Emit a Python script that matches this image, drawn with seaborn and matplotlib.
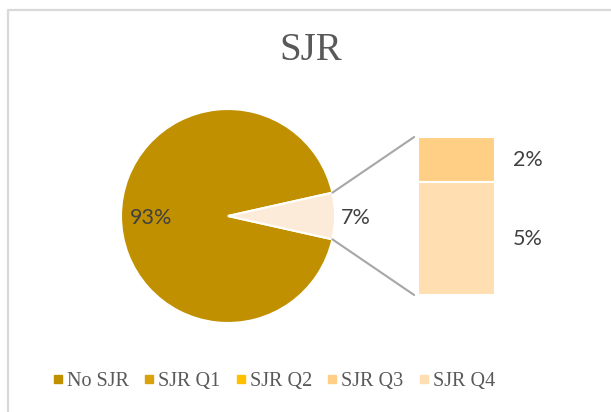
import matplotlib
matplotlib.use("Agg")
import matplotlib.pyplot as plt
from matplotlib.patches import ConnectionPatch
from matplotlib.lines import Line2D
import seaborn as sns
import numpy as np

# ---- data ----
pie_labels = ["No SJR", "SJR Q1-Q4"]
pie_values = [93, 7]
bar_labels = ["SJR Q4", "SJR Q3"]   # bottom to top
bar_values = [5, 2]
legend_labels = ["No SJR", "SJR Q1", "SJR Q2", "SJR Q3", "SJR Q4"]
legend_colors = ["#C09000", "#D9A20C", "#FFC000", "#FFCF86", "#FFDFB2"]
pie_colors = ["#C09000", "#FDEBD9"]
bar_colors = ["#FFDFB2", "#FFCF86"]
title = "SJR"

sns.set_theme(style="white")
plt.rcParams["font.family"] = ["Lato", "DejaVu Sans"]

W, H = 611, 412
fig = plt.figure(figsize=(W / 100, H / 100), dpi=100)
fig.patch.set_facecolor("white")

def rect(x0, y0, x1, y1):
    return [x0 / W, 1 - y1 / H, (x1 - x0) / W, (y1 - y0) / H]

# frame lines
fig.add_artist(Line2D([8 / W, 8 / W], [0, 1 - 10 / H], color="#D9D9D9", lw=1.6, transform=fig.transFigure))
fig.add_artist(Line2D([8 / W, 1], [1 - 10 / H, 1 - 10 / H], color="#D9D9D9", lw=1.6, transform=fig.transFigure))

# ---- pie ----
axp = fig.add_axes(rect(121, 109, 335, 323))
small = pie_values[1] / sum(pie_values) * 360
start = small / 2
wedges, _ = axp.pie(pie_values, colors=pie_colors, startangle=start, counterclock=True,
                    radius=1, wedgeprops=dict(edgecolor="white", linewidth=1.5))
axp.set_xlim(-1, 1)
axp.set_ylim(-1, 1)
axp.set_aspect("equal")
axp.axis("off")

total = sum(pie_values)
for w, v, r in zip(wedges, pie_values, [0.72, 1.19]):
    ang = np.deg2rad((w.theta1 + w.theta2) / 2)
    axp.text(r * np.cos(ang), r * np.sin(ang) - 0.02, f"{round(v / total * 100)}%",
             ha="center", va="center", fontsize=15.5, color="#404040")

# ---- bar ----
axb = fig.add_axes(rect(418, 137, 495, 295))
bottom = 0
for v, c in zip(bar_values, bar_colors):
    axb.bar([0], [v], bottom=bottom, width=1.0, color=c, edgecolor="white", linewidth=1.5)
    axb.annotate(f"{v}%", xy=(0.5, bottom + v / 2), xytext=(13, 0), textcoords="offset points",
                 ha="left", va="center", fontsize=15.5, color="#404040")
    bottom += v
axb.set_xlim(-0.5, 0.5)
axb.set_ylim(0, sum(bar_values))
axb.axis("off")

# connectors
t1 = np.deg2rad(wedges[1].theta1)
t2 = np.deg2rad(wedges[1].theta2)
for ang, yb in [(t2, 1.0), (t1, 0.0)]:
    con = ConnectionPatch(xyA=(np.cos(ang), np.sin(ang)), coordsA=axp.transData,
                          xyB=(-0.05, yb), coordsB=axb.transAxes,
                          color="#A6A6A6", lw=1.5)
    fig.add_artist(con)

# title
fig.text(311 / W, 1 - 50 / H, title, ha="center", va="center", fontsize=28,
         color="#595959", family=["Liberation Serif", "DejaVu Serif"])

# legend
handles = [Line2D([], [], marker="s", linestyle="", markersize=5.5, color=c) for c in legend_colors]
leg = fig.legend(handles, legend_labels, loc="center", bbox_to_anchor=(274 / W, 1 - 381 / H),
                 ncol=5, frameon=False, handlelength=0.5, handletextpad=0.2, columnspacing=0.75,
                 prop={"family": ["Liberation Serif", "DejaVu Serif"], "size": 14.5})
for t in leg.get_texts():
    t.set_color("#595959")

fig.savefig("out.png", dpi=100, facecolor="white")
